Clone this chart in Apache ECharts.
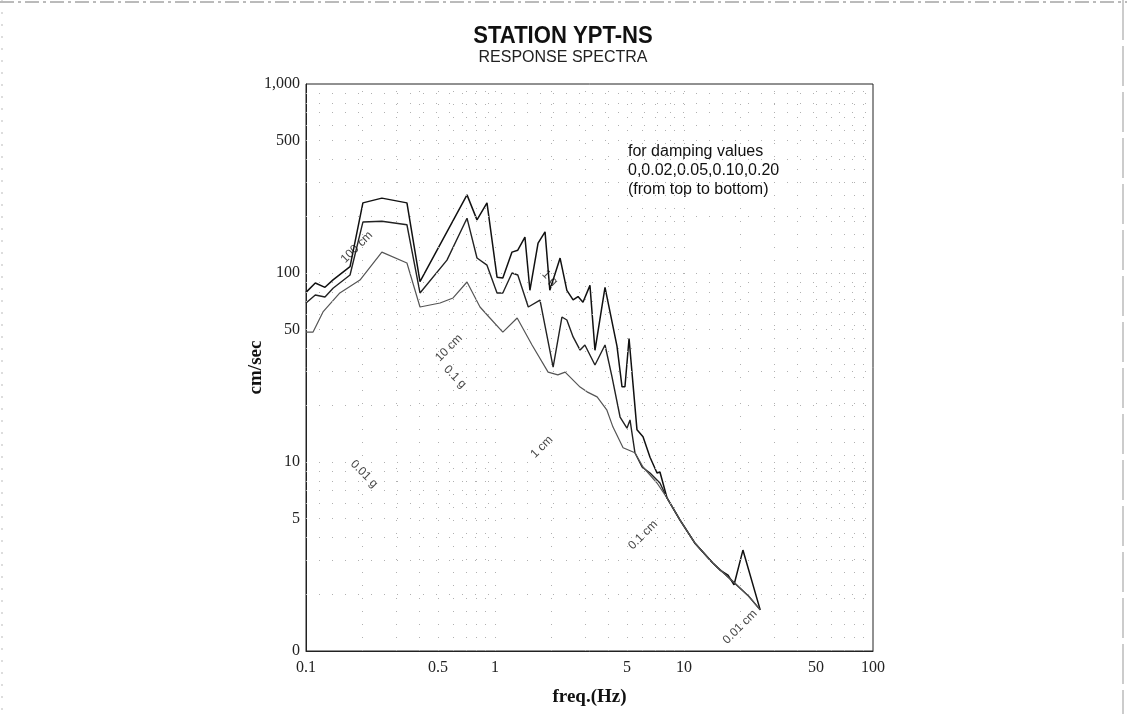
<!DOCTYPE html>
<html>
<head>
<meta charset="utf-8">
<script src="https://cdn.jsdelivr.net/npm/echarts@6/dist/echarts.min.js"></script>
<style>
  html, body { margin: 0; padding: 0; background: #fff; }
  #main { width: 1127px; height: 714px; }
</style>
</head>
<body>
<div id="main"></div>
<script>
// tick labels
const xTickValues = [0.1, 0.5, 1, 5, 10, 50, 100];
const xTickLabels = ['0.1', '0.5', '1', '5', '10', '50', '100'];
const yTickValues = [1, 5, 10, 50, 100, 500, 1000];
const yTickLabels = ['0', '5', '10', '50', '100', '500', '1,000'];

// damping 0 (top curve): frequency (Hz) and velocity (cm/sec)
const topFreq = [0.1, 0.112, 0.126, 0.139, 0.171, 0.2, 0.252, 0.342, 0.401, 0.711, 0.803, 0.907, 1.025, 1.1, 1.23, 1.32, 1.44, 1.53, 1.69, 1.84, 1.95, 2.21, 2.4, 2.59, 2.75, 2.92, 3.18, 3.38, 3.82, 4.42, 4.7, 4.87, 5.12, 5.37, 5.64, 6.07, 6.61, 7.2, 7.46, 8.13, 9.53, 11.4, 14.2, 15.5, 17.1, 18.4, 20.5, 25.3];
const topVel = [79, 88.5, 84, 92, 108, 235, 249, 235, 90, 259, 191, 235, 95, 94, 129, 132, 155, 81, 144, 165, 81, 120, 81, 72, 75, 70, 86, 39, 84, 41, 25, 25, 45, 26, 14.8, 13.6, 10.6, 8.75, 8.85, 6.45, 4.93, 3.73, 2.92, 2.68, 2.52, 2.24, 3.42, 1.65];

// middle curve
const midFreq = [0.1, 0.112, 0.126, 0.139, 0.171, 0.2, 0.252, 0.342, 0.401, 0.557, 0.711, 0.803, 0.907, 1.025, 1.1, 1.23, 1.32, 1.5, 1.73, 2.03, 2.26, 2.4, 2.59, 2.82, 2.99, 3.38, 3.82, 4.16, 4.59, 4.99, 5.18, 5.5, 6.0, 6.61, 7.46, 8.13, 9.53, 11.4, 14.2, 18, 22, 25.3];
const midVel = [69.4, 76.5, 74.6, 83, 97.6, 186, 188, 180, 78.4, 117, 195, 120, 110, 78.4, 78.4, 100, 97.6, 66.1, 71.9, 31.8, 58.5, 56.4, 45.9, 39.1, 41.6, 32.6, 41.6, 28.2, 17.3, 15.1, 16.7, 11.2, 9.41, 8.75, 7.74, 6.45, 4.93, 3.73, 2.92, 2.35, 1.95, 1.65];

// bottom curve
const lowFreq = [0.1, 0.109, 0.123, 0.151, 0.193, 0.252, 0.342, 0.401, 0.512, 0.6, 0.711, 0.833, 0.94, 1.1, 1.31, 1.57, 1.91, 2.15, 2.35, 2.82, 3.07, 3.47, 3.91, 4.21, 4.76, 5.5, 6.07, 7.2, 8.13, 9.53, 11.4, 14.2, 18, 22, 25.3];
const lowVel = [48.7, 48.7, 62.2, 78.4, 91.8, 129, 113, 66.1, 69.4, 73.8, 89.6, 66.1, 57.8, 48.7, 57.8, 41.6, 29.9, 28.9, 29.9, 24.9, 23.5, 22.1, 18.8, 15.3, 11.9, 11.2, 9.41, 7.74, 6.45, 4.93, 3.73, 2.92, 2.35, 1.95, 1.65];

// tripartite scale labels
const tripText = ['100 cm', '10 cm', '1 cm', '0.1 cm', '0.01 cm', '1 g', '0.1 g', '0.01 g'];
const tripFreq = [0.186, 0.571, 1.77, 6.07, 19.8, 1.95, 0.614, 0.203];
const tripVel = [137, 40.1, 12.0, 4.11, 1.34, 94, 28.2, 8.64];
const tripAngle = [45, 45, 45, 45, 45, -45, -45, -45];

// faint log grid values
const gridX = [];
const gridY = [];
[0.1, 1, 10].forEach(d => { for (let k = 2; k < 10; k++) gridX.push(k * d); });
[1, 10, 100].forEach(d => { for (let k = 2; k < 10; k++) gridY.push(k * d); });
gridX.push(1, 10);
gridY.push(10, 100);

const lg = Math.log10;
const toPairs = (fs, vs) => fs.map((f, i) => [lg(f), lg(vs[i])]);

const chart = echarts.init(document.getElementById('main'));

const serif = 'Liberation Serif, Times New Roman, serif';
const sans = 'Liberation Sans, Arial, sans-serif';

const option = {
  animation: false,
  backgroundColor: '#fff',
  grid: { left: 306, right: 254, top: 84, bottom: 63, show: true, borderColor: '#222', borderWidth: 1 },
  xAxis: {
    type: 'value',
    min: lg(0.1),
    max: lg(100),
    name: 'freq.(Hz)',
    nameLocation: 'middle',
    nameGap: 37,
    nameMoveOverlap: false,
    nameTextStyle: { fontFamily: serif, fontWeight: 'bold', fontSize: 19, color: '#111' },
    axisLine: { show: true, onZero: false, lineStyle: { color: '#222', width: 1 } },
    axisTick: { show: false },
    splitLine: { show: false },
    axisLabel: {
      customValues: xTickValues.map(lg),
      formatter: v => xTickLabels[xTickValues.findIndex(t => Math.abs(lg(t) - v) < 1e-6)] || '',
      fontFamily: serif, fontSize: 16, color: '#222', margin: 9
    }
  },
  yAxis: {
    type: 'value',
    min: 0,
    max: 3,
    name: 'cm/sec',
    nameLocation: 'middle',
    nameGap: 40,
    nameMoveOverlap: false,
    nameRotate: 90,
    nameTextStyle: { fontFamily: serif, fontWeight: 'bold', fontSize: 19, color: '#111' },
    axisLine: { show: true, onZero: false, lineStyle: { color: '#222', width: 1 } },
    axisTick: { show: false },
    splitLine: { show: false },
    axisLabel: {
      customValues: yTickValues.map(lg),
      formatter: v => yTickLabels[yTickValues.findIndex(t => Math.abs(lg(t) - v) < 1e-6)] || '',
      fontFamily: serif, fontSize: 16, color: '#222', margin: 6
    }
  },
  graphic: [
    {
      type: 'text',
      x: 563,
      y: 36,
      scaleX: 0.92,
      silent: true,
      style: {
        text: 'STATION YPT-NS',
        font: 'bold 24px Liberation Sans, Arial, sans-serif',
        align: 'center',
        verticalAlign: 'middle',
        fill: '#111'
      }
    },
    {
      type: 'text',
      x: 563,
      y: 58,
      silent: true,
      style: {
        text: 'RESPONSE SPECTRA',
        font: '16px Liberation Sans, Arial, sans-serif',
        align: 'center',
        verticalAlign: 'middle',
        fill: '#222'
      }
    },
    {
      type: 'text',
      left: 628,
      top: 142,
      style: {
        text: 'for damping values\n0,0.02,0.05,0.10,0.20\n(from top to bottom)',
        font: '16px Liberation Sans, Arial, sans-serif',
        lineHeight: 19,
        fill: '#111'
      }
    },
    { type: 'line', silent: true, shape: { x1: 0, y1: 2, x2: 1127, y2: 2 }, style: { stroke: '#777', lineWidth: 1, lineDash: [14, 4, 3, 4] } },
    { type: 'line', silent: true, shape: { x1: 2, y1: 0, x2: 2, y2: 714 }, style: { stroke: '#bbb', lineWidth: 1, lineDash: [2, 10] } },
    { type: 'line', silent: true, shape: { x1: 1123, y1: 0, x2: 1123, y2: 714 }, style: { stroke: '#999', lineWidth: 1, lineDash: [40, 6] } }
  ],
  series: [
    {
      type: 'line',
      silent: true,
      data: [],
      markLine: {
        silent: true,
        symbol: 'none',
        label: { show: false },
        lineStyle: { color: '#b0b0b0', width: 1, type: [1, 12] },
        data: gridX.map(v => ({ xAxis: lg(v) })).concat(gridY.map(v => ({ yAxis: lg(v) })))
      }
    },
    {
      name: 'damping 0',
      type: 'line',
      data: toPairs(topFreq, topVel),
      showSymbol: false,
      lineStyle: { color: '#111', width: 1.5 }
    },
    {
      name: 'damping mid',
      type: 'line',
      data: toPairs(midFreq, midVel),
      showSymbol: false,
      lineStyle: { color: '#222', width: 1.4 }
    },
    {
      name: 'damping high',
      type: 'line',
      data: toPairs(lowFreq, lowVel),
      showSymbol: false,
      lineStyle: { color: '#555', width: 1.2 }
    },
    {
      type: 'scatter',
      silent: true,
      symbolSize: 1,
      itemStyle: { color: 'rgba(0,0,0,0)' },
      label: {
        show: true,
        position: 'inside',
        formatter: '{b}',
        fontFamily: sans,
        fontSize: 12,
        color: '#111'
      },
      data: tripText.map((t, i) => ({
        name: t,
        value: [lg(tripFreq[i]), lg(tripVel[i])],
        label: { rotate: tripAngle[i] }
      }))
    }
  ]
};

chart.setOption(option);
</script>
</body>
</html>
